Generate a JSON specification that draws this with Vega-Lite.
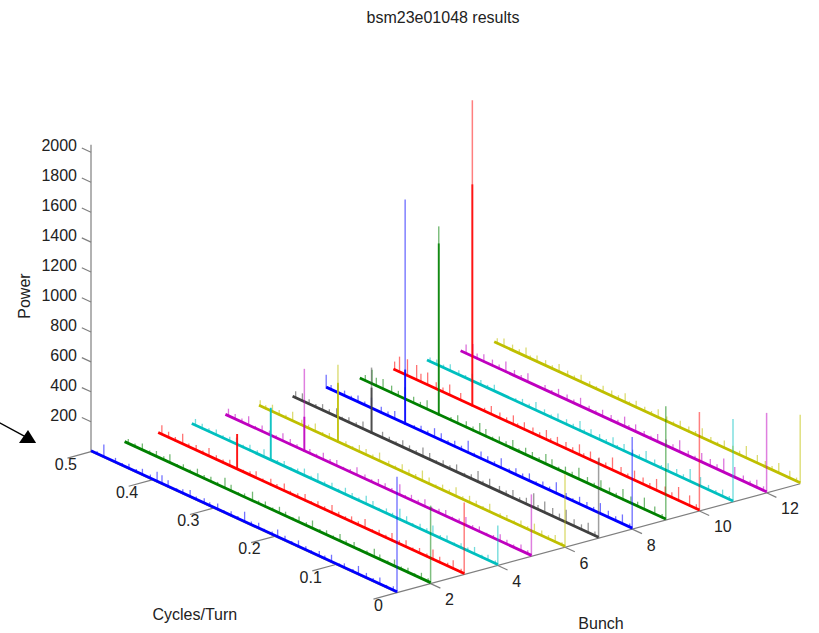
{"$schema":"https://vega.github.io/schema/vega-lite/v6.json","width":819,"height":633,"padding":0,"autosize":{"type":"fit","contains":"padding"},"background":"white","config":{"view":{"stroke":null}},
"datasets":{
"axes":[{"b":1,"f":0.5,"p":0,"b2":1,"f2":0.5,"p2":2050},{"b":1,"f":0,"p":0,"b2":1,"f2":0.5,"p2":0},{"b":1,"f":0,"p":0,"b2":13,"f2":0,"p2":0},
{"b":1,"f":0.5,"p":200,"b2":1,"f2":0.515,"p2":200},{"b":1,"f":0.5,"p":400,"b2":1,"f2":0.515,"p2":400},{"b":1,"f":0.5,"p":600,"b2":1,"f2":0.515,"p2":600},{"b":1,"f":0.5,"p":800,"b2":1,"f2":0.515,"p2":800},{"b":1,"f":0.5,"p":1000,"b2":1,"f2":0.515,"p2":1000},{"b":1,"f":0.5,"p":1200,"b2":1,"f2":0.515,"p2":1200},{"b":1,"f":0.5,"p":1400,"b2":1,"f2":0.515,"p2":1400},{"b":1,"f":0.5,"p":1600,"b2":1,"f2":0.515,"p2":1600},{"b":1,"f":0.5,"p":1800,"b2":1,"f2":0.515,"p2":1800},{"b":1,"f":0.5,"p":2000,"b2":1,"f2":0.515,"p2":2000},
{"b":1,"f":0,"p":0,"b2":0.3,"f2":0,"p2":0},{"b":1,"f":0.1,"p":0,"b2":0.3,"f2":0.1,"p2":0},{"b":1,"f":0.2,"p":0,"b2":0.3,"f2":0.2,"p2":0},{"b":1,"f":0.3,"p":0,"b2":0.3,"f2":0.3,"p2":0},{"b":1,"f":0.4,"p":0,"b2":0.3,"f2":0.4,"p2":0},{"b":1,"f":0.5,"p":0,"b2":0.3,"f2":0.5,"p2":0},
{"b":2,"f":0,"p":0,"b2":2,"f2":-0.016,"p2":0},{"b":4,"f":0,"p":0,"b2":4,"f2":-0.016,"p2":0},{"b":6,"f":0,"p":0,"b2":6,"f2":-0.016,"p2":0},{"b":8,"f":0,"p":0,"b2":8,"f2":-0.016,"p2":0},{"b":10,"f":0,"p":0,"b2":10,"f2":-0.016,"p2":0},{"b":12,"f":0,"p":0,"b2":12,"f2":-0.016,"p2":0}],
"peaks":[{"b":1,"f":0,"p":775,"core":0},{"b":2,"f":0,"p":521,"core":0},{"b":3,"f":0,"p":481,"core":0},{"b":4,"f":0,"p":267,"core":0},{"b":5,"f":0,"p":414,"core":0},{"b":6,"f":0,"p":488,"core":0},{"b":7,"f":0,"p":534,"core":0},{"b":8,"f":0,"p":615,"core":0},{"b":9,"f":0,"p":761,"core":0},{"b":10,"f":0,"p":661,"core":0},{"b":11,"f":0,"p":554,"core":0},{"b":12,"f":0,"p":534,"core":0},{"b":13,"f":0,"p":461,"core":0},
{"b":3,"f":0.371,"p":240,"core":240},{"b":4,"f":0.371,"p":354,"core":354},{"b":5,"f":0.371,"p":554,"core":234},{"b":6,"f":0.371,"p":521,"core":400},{"b":7,"f":0.371,"p":441,"core":307},{"b":8,"f":0.371,"p":1503,"core":367},{"b":9,"f":0.371,"p":1263,"core":1149},{"b":10,"f":0.371,"p":2044,"core":1483}],
"spectra":[
{"b":1,"f":0.006,"p":32},{"b":1,"f":0.017,"p":20},{"b":1,"f":0.028,"p":48},{"b":1,"f":0.039,"p":24},{"b":1,"f":0.05,"p":38},{"b":1,"f":0.063,"p":60},{"b":1,"f":0.072,"p":22},{"b":1,"f":0.086,"p":34},{"b":1,"f":0.094,"p":18},{"b":1,"f":0.107,"p":52},{"b":1,"f":0.118,"p":26},{"b":1,"f":0.127,"p":40},{"b":1,"f":0.14,"p":20},{"b":1,"f":0.149,"p":30},{"b":1,"f":0.161,"p":46},{"b":1,"f":0.172,"p":22},{"b":1,"f":0.183,"p":36},{"b":1,"f":0.195,"p":55},{"b":1,"f":0.204,"p":24},{"b":1,"f":0.217,"p":18},{"b":1,"f":0.226,"p":42},{"b":1,"f":0.238,"p":28},{"b":1,"f":0.249,"p":72},{"b":1,"f":0.26,"p":22},{"b":1,"f":0.271,"p":34},{"b":1,"f":0.283,"p":20},{"b":1,"f":0.293,"p":44},{"b":1,"f":0.306,"p":28},{"b":1,"f":0.315,"p":38},{"b":1,"f":0.328,"p":24},{"b":1,"f":0.338,"p":50},{"b":1,"f":0.35,"p":32},{"b":1,"f":0.36,"p":20},{"b":1,"f":0.374,"p":46},{"b":1,"f":0.384,"p":62},{"b":1,"f":0.392,"p":70},{"b":1,"f":0.403,"p":30},{"b":1,"f":0.416,"p":44},{"b":1,"f":0.426,"p":24},{"b":1,"f":0.438,"p":36},{"b":1,"f":0.449,"p":20},{"b":1,"f":0.46,"p":34},{"b":1,"f":0.479,"p":88},{"b":1,"f":0.49,"p":22},
{"b":2,"f":0.004,"p":28},{"b":2,"f":0.015,"p":44},{"b":2,"f":0.026,"p":20},{"b":2,"f":0.037,"p":36},{"b":2,"f":0.048,"p":24},{"b":2,"f":0.059,"p":50},{"b":2,"f":0.07,"p":22},{"b":2,"f":0.083,"p":38},{"b":2,"f":0.092,"p":60},{"b":2,"f":0.104,"p":26},{"b":2,"f":0.116,"p":18},{"b":2,"f":0.125,"p":42},{"b":2,"f":0.138,"p":30},{"b":2,"f":0.148,"p":52},{"b":2,"f":0.159,"p":22},{"b":2,"f":0.17,"p":36},{"b":2,"f":0.181,"p":24},{"b":2,"f":0.193,"p":58},{"b":2,"f":0.203,"p":28},{"b":2,"f":0.215,"p":44},{"b":2,"f":0.225,"p":20},{"b":2,"f":0.237,"p":34},{"b":2,"f":0.247,"p":48},{"b":2,"f":0.258,"p":22},{"b":2,"f":0.27,"p":40},{"b":2,"f":0.281,"p":26},{"b":2,"f":0.291,"p":66},{"b":2,"f":0.304,"p":30},{"b":2,"f":0.314,"p":20},{"b":2,"f":0.326,"p":46},{"b":2,"f":0.336,"p":74},{"b":2,"f":0.348,"p":24},{"b":2,"f":0.359,"p":38},{"b":2,"f":0.37,"p":28},{"b":2,"f":0.381,"p":50},{"b":2,"f":0.393,"p":22},{"b":2,"f":0.404,"p":36},{"b":2,"f":0.414,"p":20},{"b":2,"f":0.426,"p":62},{"b":2,"f":0.436,"p":30},{"b":2,"f":0.448,"p":42},{"b":2,"f":0.459,"p":24},{"b":2,"f":0.471,"p":48},{"b":2,"f":0.483,"p":26},{"b":2,"f":0.494,"p":36},
{"b":3,"f":0.005,"p":30},{"b":3,"f":0.018,"p":62},{"b":3,"f":0.027,"p":28},{"b":3,"f":0.04,"p":44},{"b":3,"f":0.051,"p":72},{"b":3,"f":0.061,"p":26},{"b":3,"f":0.073,"p":40},{"b":3,"f":0.084,"p":22},{"b":3,"f":0.095,"p":50},{"b":3,"f":0.106,"p":30},{"b":3,"f":0.118,"p":56},{"b":3,"f":0.128,"p":24},{"b":3,"f":0.139,"p":38},{"b":3,"f":0.15,"p":20},{"b":3,"f":0.162,"p":66},{"b":3,"f":0.173,"p":30},{"b":3,"f":0.184,"p":42},{"b":3,"f":0.194,"p":24},{"b":3,"f":0.205,"p":34},{"b":3,"f":0.216,"p":58},{"b":3,"f":0.228,"p":26},{"b":3,"f":0.239,"p":40},{"b":3,"f":0.25,"p":20},{"b":3,"f":0.26,"p":48},{"b":3,"f":0.272,"p":30},{"b":3,"f":0.284,"p":24},{"b":3,"f":0.294,"p":54},{"b":3,"f":0.306,"p":28},{"b":3,"f":0.316,"p":44},{"b":3,"f":0.329,"p":22},{"b":3,"f":0.34,"p":50},{"b":3,"f":0.35,"p":30},{"b":3,"f":0.361,"p":20},{"b":3,"f":0.383,"p":46},{"b":3,"f":0.394,"p":26},{"b":3,"f":0.405,"p":34},{"b":3,"f":0.417,"p":60},{"b":3,"f":0.427,"p":24},{"b":3,"f":0.438,"p":40},{"b":3,"f":0.45,"p":28},{"b":3,"f":0.46,"p":74},{"b":3,"f":0.472,"p":30},{"b":3,"f":0.483,"p":44},{"b":3,"f":0.494,"p":66},
{"b":4,"f":0.004,"p":26},{"b":4,"f":0.016,"p":42},{"b":4,"f":0.026,"p":22},{"b":4,"f":0.038,"p":52},{"b":4,"f":0.049,"p":28},{"b":4,"f":0.06,"p":36},{"b":4,"f":0.071,"p":20},{"b":4,"f":0.083,"p":44},{"b":4,"f":0.094,"p":26},{"b":4,"f":0.106,"p":68},{"b":4,"f":0.116,"p":30},{"b":4,"f":0.127,"p":40},{"b":4,"f":0.139,"p":22},{"b":4,"f":0.149,"p":48},{"b":4,"f":0.16,"p":78},{"b":4,"f":0.172,"p":28},{"b":4,"f":0.182,"p":38},{"b":4,"f":0.194,"p":20},{"b":4,"f":0.204,"p":46},{"b":4,"f":0.215,"p":60},{"b":4,"f":0.227,"p":26},{"b":4,"f":0.238,"p":36},{"b":4,"f":0.249,"p":50},{"b":4,"f":0.26,"p":22},{"b":4,"f":0.271,"p":42},{"b":4,"f":0.283,"p":28},{"b":4,"f":0.294,"p":62},{"b":4,"f":0.305,"p":24},{"b":4,"f":0.316,"p":52},{"b":4,"f":0.327,"p":32},{"b":4,"f":0.338,"p":20},{"b":4,"f":0.349,"p":40},{"b":4,"f":0.36,"p":26},{"b":4,"f":0.382,"p":56},{"b":4,"f":0.393,"p":30},{"b":4,"f":0.405,"p":44},{"b":4,"f":0.416,"p":22},{"b":4,"f":0.427,"p":50},{"b":4,"f":0.438,"p":34},{"b":4,"f":0.449,"p":24},{"b":4,"f":0.46,"p":42},{"b":4,"f":0.472,"p":28},{"b":4,"f":0.483,"p":36},{"b":4,"f":0.494,"p":48},
{"b":5,"f":0.006,"p":30},{"b":5,"f":0.017,"p":48},{"b":5,"f":0.029,"p":24},{"b":5,"f":0.04,"p":36},{"b":5,"f":0.051,"p":52},{"b":5,"f":0.062,"p":26},{"b":5,"f":0.073,"p":20},{"b":5,"f":0.085,"p":40},{"b":5,"f":0.096,"p":28},{"b":5,"f":0.107,"p":62},{"b":5,"f":0.118,"p":30},{"b":5,"f":0.129,"p":22},{"b":5,"f":0.14,"p":46},{"b":5,"f":0.151,"p":34},{"b":5,"f":0.163,"p":24},{"b":5,"f":0.174,"p":54},{"b":5,"f":0.185,"p":30},{"b":5,"f":0.196,"p":42},{"b":5,"f":0.206,"p":22},{"b":5,"f":0.215,"p":76},{"b":5,"f":0.228,"p":28},{"b":5,"f":0.239,"p":38},{"b":5,"f":0.25,"p":46},{"b":5,"f":0.261,"p":24},{"b":5,"f":0.272,"p":34},{"b":5,"f":0.285,"p":58},{"b":5,"f":0.296,"p":26},{"b":5,"f":0.307,"p":20},{"b":5,"f":0.318,"p":44},{"b":5,"f":0.329,"p":30},{"b":5,"f":0.34,"p":52},{"b":5,"f":0.351,"p":24},{"b":5,"f":0.362,"p":36},{"b":5,"f":0.383,"p":28},{"b":5,"f":0.394,"p":42},{"b":5,"f":0.406,"p":58},{"b":5,"f":0.417,"p":24},{"b":5,"f":0.428,"p":34},{"b":5,"f":0.44,"p":46},{"b":5,"f":0.451,"p":22},{"b":5,"f":0.462,"p":66},{"b":5,"f":0.473,"p":30},{"b":5,"f":0.484,"p":40},{"b":5,"f":0.495,"p":54},
{"b":6,"f":0.005,"p":24},{"b":6,"f":0.016,"p":52},{"b":6,"f":0.027,"p":30},{"b":6,"f":0.038,"p":40},{"b":6,"f":0.05,"p":64},{"b":6,"f":0.061,"p":26},{"b":6,"f":0.072,"p":44},{"b":6,"f":0.083,"p":22},{"b":6,"f":0.095,"p":36},{"b":6,"f":0.106,"p":28},{"b":6,"f":0.123,"p":60},{"b":6,"f":0.134,"p":24},{"b":6,"f":0.145,"p":38},{"b":6,"f":0.156,"p":50},{"b":6,"f":0.167,"p":26},{"b":6,"f":0.178,"p":66},{"b":6,"f":0.189,"p":30},{"b":6,"f":0.2,"p":42},{"b":6,"f":0.211,"p":22},{"b":6,"f":0.222,"p":48},{"b":6,"f":0.233,"p":74},{"b":6,"f":0.244,"p":30},{"b":6,"f":0.255,"p":40},{"b":6,"f":0.266,"p":54},{"b":6,"f":0.277,"p":24},{"b":6,"f":0.288,"p":36},{"b":6,"f":0.303,"p":62},{"b":6,"f":0.314,"p":28},{"b":6,"f":0.325,"p":44},{"b":6,"f":0.336,"p":50},{"b":6,"f":0.347,"p":22},{"b":6,"f":0.358,"p":34},{"b":6,"f":0.385,"p":38},{"b":6,"f":0.396,"p":24},{"b":6,"f":0.408,"p":58},{"b":6,"f":0.419,"p":30},{"b":6,"f":0.43,"p":42},{"b":6,"f":0.445,"p":68},{"b":6,"f":0.456,"p":26},{"b":6,"f":0.467,"p":38},{"b":6,"f":0.478,"p":52},{"b":6,"f":0.489,"p":28},{"b":6,"f":0.498,"p":44},
{"b":7,"f":0.006,"p":34},{"b":7,"f":0.017,"p":72},{"b":7,"f":0.028,"p":40},{"b":7,"f":0.04,"p":52},{"b":7,"f":0.053,"p":90},{"b":7,"f":0.064,"p":44},{"b":7,"f":0.075,"p":60},{"b":7,"f":0.088,"p":80},{"b":7,"f":0.099,"p":36},{"b":7,"f":0.106,"p":100},{"b":7,"f":0.118,"p":48},{"b":7,"f":0.129,"p":30},{"b":7,"f":0.14,"p":58},{"b":7,"f":0.151,"p":34},{"b":7,"f":0.162,"p":44},{"b":7,"f":0.178,"p":62},{"b":7,"f":0.189,"p":28},{"b":7,"f":0.197,"p":78},{"b":7,"f":0.208,"p":36},{"b":7,"f":0.219,"p":24},{"b":7,"f":0.232,"p":56},{"b":7,"f":0.243,"p":30},{"b":7,"f":0.254,"p":42},{"b":7,"f":0.265,"p":22},{"b":7,"f":0.276,"p":50},{"b":7,"f":0.287,"p":66},{"b":7,"f":0.298,"p":28},{"b":7,"f":0.309,"p":38},{"b":7,"f":0.32,"p":52},{"b":7,"f":0.331,"p":24},{"b":7,"f":0.342,"p":34},{"b":7,"f":0.353,"p":46},{"b":7,"f":0.385,"p":54},{"b":7,"f":0.396,"p":28},{"b":7,"f":0.408,"p":40},{"b":7,"f":0.419,"p":22},{"b":7,"f":0.428,"p":62},{"b":7,"f":0.44,"p":32},{"b":7,"f":0.451,"p":46},{"b":7,"f":0.462,"p":26},{"b":7,"f":0.473,"p":38},{"b":7,"f":0.484,"p":56},{"b":7,"f":0.495,"p":50},
{"b":8,"f":0.004,"p":30},{"b":8,"f":0.016,"p":68},{"b":8,"f":0.027,"p":36},{"b":8,"f":0.039,"p":50},{"b":8,"f":0.052,"p":76},{"b":8,"f":0.063,"p":30},{"b":8,"f":0.074,"p":42},{"b":8,"f":0.086,"p":54},{"b":8,"f":0.097,"p":24},{"b":8,"f":0.108,"p":38},{"b":8,"f":0.124,"p":80},{"b":8,"f":0.135,"p":30},{"b":8,"f":0.146,"p":44},{"b":8,"f":0.157,"p":24},{"b":8,"f":0.168,"p":56},{"b":8,"f":0.179,"p":34},{"b":8,"f":0.19,"p":48},{"b":8,"f":0.201,"p":26},{"b":8,"f":0.214,"p":70},{"b":8,"f":0.225,"p":30},{"b":8,"f":0.236,"p":42},{"b":8,"f":0.247,"p":54},{"b":8,"f":0.258,"p":24},{"b":8,"f":0.268,"p":86},{"b":8,"f":0.279,"p":32},{"b":8,"f":0.29,"p":44},{"b":8,"f":0.301,"p":26},{"b":8,"f":0.312,"p":52},{"b":8,"f":0.323,"p":66},{"b":8,"f":0.334,"p":30},{"b":8,"f":0.345,"p":40},{"b":8,"f":0.356,"p":24},{"b":8,"f":0.388,"p":58},{"b":8,"f":0.399,"p":34},{"b":8,"f":0.41,"p":46},{"b":8,"f":0.426,"p":76},{"b":8,"f":0.437,"p":30},{"b":8,"f":0.448,"p":48},{"b":8,"f":0.459,"p":26},{"b":8,"f":0.47,"p":40},{"b":8,"f":0.481,"p":60},{"b":8,"f":0.492,"p":36},{"b":8,"f":0.5,"p":90},
{"b":9,"f":0.006,"p":30},{"b":9,"f":0.018,"p":56},{"b":9,"f":0.035,"p":84},{"b":9,"f":0.046,"p":36},{"b":9,"f":0.057,"p":50},{"b":9,"f":0.07,"p":76},{"b":9,"f":0.081,"p":30},{"b":9,"f":0.092,"p":44},{"b":9,"f":0.106,"p":66},{"b":9,"f":0.117,"p":28},{"b":9,"f":0.128,"p":46},{"b":9,"f":0.142,"p":82},{"b":9,"f":0.153,"p":34},{"b":9,"f":0.164,"p":48},{"b":9,"f":0.175,"p":26},{"b":9,"f":0.186,"p":56},{"b":9,"f":0.196,"p":72},{"b":9,"f":0.207,"p":30},{"b":9,"f":0.218,"p":44},{"b":9,"f":0.229,"p":52},{"b":9,"f":0.24,"p":26},{"b":9,"f":0.25,"p":64},{"b":9,"f":0.261,"p":34},{"b":9,"f":0.272,"p":46},{"b":9,"f":0.283,"p":24},{"b":9,"f":0.294,"p":54},{"b":9,"f":0.304,"p":76},{"b":9,"f":0.315,"p":32},{"b":9,"f":0.326,"p":46},{"b":9,"f":0.34,"p":60},{"b":9,"f":0.351,"p":28},{"b":9,"f":0.39,"p":66},{"b":9,"f":0.401,"p":34},{"b":9,"f":0.412,"p":48},{"b":9,"f":0.426,"p":84},{"b":9,"f":0.437,"p":40},{"b":9,"f":0.448,"p":54},{"b":9,"f":0.462,"p":72},{"b":9,"f":0.473,"p":60},{"b":9,"f":0.48,"p":100},{"b":9,"f":0.491,"p":44},
{"b":10,"f":0.005,"p":36},{"b":10,"f":0.016,"p":74},{"b":10,"f":0.034,"p":96},{"b":10,"f":0.045,"p":40},{"b":10,"f":0.056,"p":58},{"b":10,"f":0.07,"p":82},{"b":10,"f":0.081,"p":34},{"b":10,"f":0.092,"p":50},{"b":10,"f":0.106,"p":70},{"b":10,"f":0.117,"p":30},{"b":10,"f":0.128,"p":52},{"b":10,"f":0.142,"p":90},{"b":10,"f":0.153,"p":36},{"b":10,"f":0.164,"p":48},{"b":10,"f":0.178,"p":62},{"b":10,"f":0.189,"p":30},{"b":10,"f":0.196,"p":76},{"b":10,"f":0.207,"p":36},{"b":10,"f":0.218,"p":50},{"b":10,"f":0.232,"p":58},{"b":10,"f":0.243,"p":28},{"b":10,"f":0.25,"p":70},{"b":10,"f":0.261,"p":34},{"b":10,"f":0.272,"p":46},{"b":10,"f":0.286,"p":54},{"b":10,"f":0.297,"p":26},{"b":10,"f":0.304,"p":66},{"b":10,"f":0.315,"p":32},{"b":10,"f":0.326,"p":44},{"b":10,"f":0.34,"p":60},{"b":10,"f":0.351,"p":28},{"b":10,"f":0.39,"p":54},{"b":10,"f":0.408,"p":76},{"b":10,"f":0.419,"p":36},{"b":10,"f":0.43,"p":50},{"b":10,"f":0.444,"p":88},{"b":10,"f":0.455,"p":60},{"b":10,"f":0.462,"p":105},{"b":10,"f":0.477,"p":115},{"b":10,"f":0.49,"p":108},{"b":10,"f":0.498,"p":60},
{"b":11,"f":0.006,"p":28},{"b":11,"f":0.017,"p":50},{"b":11,"f":0.028,"p":26},{"b":11,"f":0.04,"p":38},{"b":11,"f":0.053,"p":66},{"b":11,"f":0.07,"p":88},{"b":11,"f":0.081,"p":32},{"b":11,"f":0.092,"p":46},{"b":11,"f":0.106,"p":58},{"b":11,"f":0.117,"p":26},{"b":11,"f":0.128,"p":42},{"b":11,"f":0.142,"p":72},{"b":11,"f":0.153,"p":30},{"b":11,"f":0.164,"p":40},{"b":11,"f":0.178,"p":52},{"b":11,"f":0.189,"p":24},{"b":11,"f":0.196,"p":62},{"b":11,"f":0.207,"p":30},{"b":11,"f":0.218,"p":42},{"b":11,"f":0.232,"p":48},{"b":11,"f":0.243,"p":26},{"b":11,"f":0.25,"p":70},{"b":11,"f":0.261,"p":30},{"b":11,"f":0.272,"p":40},{"b":11,"f":0.286,"p":52},{"b":11,"f":0.297,"p":24},{"b":11,"f":0.308,"p":38},{"b":11,"f":0.322,"p":60},{"b":11,"f":0.333,"p":28},{"b":11,"f":0.344,"p":40},{"b":11,"f":0.355,"p":24},{"b":11,"f":0.39,"p":48},{"b":11,"f":0.401,"p":26},{"b":11,"f":0.412,"p":38},{"b":11,"f":0.426,"p":54},{"b":11,"f":0.437,"p":24},{"b":11,"f":0.448,"p":36},{"b":11,"f":0.462,"p":50},{"b":11,"f":0.473,"p":26},{"b":11,"f":0.484,"p":40},{"b":11,"f":0.495,"p":32},
{"b":12,"f":0.005,"p":34},{"b":12,"f":0.016,"p":58},{"b":12,"f":0.027,"p":30},{"b":12,"f":0.038,"p":44},{"b":12,"f":0.052,"p":74},{"b":12,"f":0.07,"p":98},{"b":12,"f":0.081,"p":38},{"b":12,"f":0.092,"p":52},{"b":12,"f":0.106,"p":66},{"b":12,"f":0.117,"p":28},{"b":12,"f":0.128,"p":40},{"b":12,"f":0.142,"p":84},{"b":12,"f":0.153,"p":36},{"b":12,"f":0.164,"p":48},{"b":12,"f":0.178,"p":58},{"b":12,"f":0.189,"p":26},{"b":12,"f":0.2,"p":36},{"b":12,"f":0.214,"p":54},{"b":12,"f":0.225,"p":30},{"b":12,"f":0.232,"p":72},{"b":12,"f":0.243,"p":30},{"b":12,"f":0.254,"p":42},{"b":12,"f":0.268,"p":50},{"b":12,"f":0.279,"p":26},{"b":12,"f":0.29,"p":36},{"b":12,"f":0.304,"p":62},{"b":12,"f":0.315,"p":30},{"b":12,"f":0.326,"p":42},{"b":12,"f":0.34,"p":54},{"b":12,"f":0.351,"p":26},{"b":12,"f":0.362,"p":38},{"b":12,"f":0.39,"p":64},{"b":12,"f":0.401,"p":32},{"b":12,"f":0.412,"p":44},{"b":12,"f":0.426,"p":74},{"b":12,"f":0.437,"p":34},{"b":12,"f":0.448,"p":46},{"b":12,"f":0.462,"p":56},{"b":12,"f":0.473,"p":40},{"b":12,"f":0.48,"p":90},{"b":12,"f":0.491,"p":66},
{"b":13,"f":0.006,"p":30},{"b":13,"f":0.017,"p":54},{"b":13,"f":0.035,"p":72},{"b":13,"f":0.046,"p":32},{"b":13,"f":0.057,"p":44},{"b":13,"f":0.07,"p":60},{"b":13,"f":0.088,"p":86},{"b":13,"f":0.099,"p":34},{"b":13,"f":0.11,"p":46},{"b":13,"f":0.124,"p":56},{"b":13,"f":0.135,"p":26},{"b":13,"f":0.146,"p":38},{"b":13,"f":0.16,"p":70},{"b":13,"f":0.171,"p":30},{"b":13,"f":0.182,"p":40},{"b":13,"f":0.196,"p":52},{"b":13,"f":0.207,"p":26},{"b":13,"f":0.218,"p":38},{"b":13,"f":0.232,"p":60},{"b":13,"f":0.243,"p":28},{"b":13,"f":0.254,"p":36},{"b":13,"f":0.268,"p":50},{"b":13,"f":0.279,"p":24},{"b":13,"f":0.286,"p":66},{"b":13,"f":0.297,"p":32},{"b":13,"f":0.308,"p":42},{"b":13,"f":0.322,"p":48},{"b":13,"f":0.333,"p":24},{"b":13,"f":0.344,"p":36},{"b":13,"f":0.358,"p":54},{"b":13,"f":0.369,"p":28},{"b":13,"f":0.38,"p":40},{"b":13,"f":0.394,"p":58},{"b":13,"f":0.405,"p":28},{"b":13,"f":0.416,"p":42},{"b":13,"f":0.43,"p":46},{"b":13,"f":0.441,"p":26},{"b":13,"f":0.448,"p":66},{"b":13,"f":0.459,"p":34},{"b":13,"f":0.47,"p":44},{"b":13,"f":0.484,"p":58},{"b":13,"f":0.495,"p":40}],
"ends":[{"b":1,"f":0},{"b":1,"f":0.5},{"b":2,"f":0},{"b":2,"f":0.5},{"b":3,"f":0},{"b":3,"f":0.5},{"b":4,"f":0},{"b":4,"f":0.5},{"b":5,"f":0},{"b":5,"f":0.5},{"b":6,"f":0},{"b":6,"f":0.5},{"b":7,"f":0},{"b":7,"f":0.5},{"b":8,"f":0},{"b":8,"f":0.5},{"b":9,"f":0},{"b":9,"f":0.5},{"b":10,"f":0},{"b":10,"f":0.5},{"b":11,"f":0},{"b":11,"f":0.5},{"b":12,"f":0},{"b":12,"f":0.5},{"b":13,"f":0},{"b":13,"f":0.5}]
},
"encoding":{"x":{"field":"x","type":"quantitative","scale":{"domain":[0,819],"nice":false,"zero":false},"axis":null},"y":{"field":"y","type":"quantitative","scale":{"domain":[633,0],"nice":false,"zero":false},"axis":null}},
"layer":[
{"data":{"name":"axes"},"transform":[{"calculate":"397+33.6*(datum.b-1)-612*datum.f","as":"x"},{"calculate":"592.7-9.08*(datum.b-1)-282*datum.f-0.1497*datum.p","as":"y"},{"calculate":"397+33.6*(datum.b2-1)-612*datum.f2","as":"xe"},{"calculate":"592.7-9.08*(datum.b2-1)-282*datum.f2-0.1497*datum.p2","as":"ye"}],"mark":{"type":"rule","color":"#7f7f7f","strokeWidth":1.2},"encoding":{"x2":{"field":"xe"},"y2":{"field":"ye"}}},
{"data":{"name":"spectra"},"transform":[{"calculate":"397+33.6*(datum.b-1)-612*datum.f","as":"x"},{"calculate":"592.7-9.08*(datum.b-1)-282*datum.f-0.1497*datum.p","as":"y"},{"calculate":"592.7-9.08*(datum.b-1)-282*datum.f","as":"y0"}],"mark":{"type":"rule","strokeWidth":1.3,"opacity":0.55},"encoding":{"y2":{"field":"y0"},"color":{"field":"b","type":"nominal","legend":null,"scale":{"domain":[1,2,3,4,5,6,7,8,9,10,11,12,13],"range":["#0000ff","#008000","#ff0000","#00bfbf","#bf00bf","#bfbf00","#404040","#0000ff","#008000","#ff0000","#00bfbf","#bf00bf","#bfbf00"]}}}},
{"data":{"name":"ends"},"transform":[{"calculate":"397+33.6*(datum.b-1)-612*datum.f","as":"x"},{"calculate":"592.7-9.08*(datum.b-1)-282*datum.f-1","as":"y"}],"mark":{"type":"line","strokeWidth":2.8},"encoding":{"order":{"field":"f","type":"quantitative"},"color":{"field":"b","type":"nominal","legend":null}}},
{"data":{"name":"peaks"},"transform":[{"calculate":"397+33.6*(datum.b-1)-612*datum.f","as":"x"},{"calculate":"592.7-9.08*(datum.b-1)-282*datum.f-0.1497*datum.p","as":"y"},{"calculate":"592.7-9.08*(datum.b-1)-282*datum.f","as":"y0"}],"mark":{"type":"rule","strokeWidth":1.5,"opacity":0.5},"encoding":{"y2":{"field":"y0"},"color":{"field":"b","type":"nominal","legend":null}}},
{"data":{"name":"peaks"},"transform":[{"filter":"datum.core>0"},{"calculate":"397+33.6*(datum.b-1)-612*datum.f","as":"x"},{"calculate":"592.7-9.08*(datum.b-1)-282*datum.f-0.1497*datum.core","as":"y"},{"calculate":"592.7-9.08*(datum.b-1)-282*datum.f","as":"y0"}],"mark":{"type":"rule","strokeWidth":1.9,"opacity":0.85},"encoding":{"y2":{"field":"y0"},"color":{"field":"b","type":"nominal","legend":null}}},
{"data":{"values":[{"b":1,"f":0.5,"p":200,"label":"200"},{"b":1,"f":0.5,"p":400,"label":"400"},{"b":1,"f":0.5,"p":600,"label":"600"},{"b":1,"f":0.5,"p":800,"label":"800"},{"b":1,"f":0.5,"p":1000,"label":"1000"},{"b":1,"f":0.5,"p":1200,"label":"1200"},{"b":1,"f":0.5,"p":1400,"label":"1400"},{"b":1,"f":0.5,"p":1600,"label":"1600"},{"b":1,"f":0.5,"p":1800,"label":"1800"},{"b":1,"f":0.5,"p":2000,"label":"2000"}]},"transform":[{"calculate":"397+33.6*(datum.b-1)-612*datum.f","as":"x"},{"calculate":"592.7-9.08*(datum.b-1)-282*datum.f-0.1497*datum.p","as":"y"}],"mark":{"type":"text","align":"right","baseline":"middle","dx":-14,"dy":-6,"font":"Liberation Sans","fontSize":16,"color":"#222222"},"encoding":{"text":{"field":"label"}}},
{"data":{"values":[{"b":1,"f":0,"p":0,"label":"0"},{"b":1,"f":0.1,"p":0,"label":"0.1"},{"b":1,"f":0.2,"p":0,"label":"0.2"},{"b":1,"f":0.3,"p":0,"label":"0.3"},{"b":1,"f":0.4,"p":0,"label":"0.4"},{"b":1,"f":0.5,"p":0,"label":"0.5"}]},"transform":[{"calculate":"397+33.6*(datum.b-1)-612*datum.f","as":"x"},{"calculate":"592.7-9.08*(datum.b-1)-282*datum.f-0.1497*datum.p","as":"y"}],"mark":{"type":"text","align":"right","baseline":"middle","dx":-14,"dy":13,"font":"Liberation Sans","fontSize":16,"color":"#222222"},"encoding":{"text":{"field":"label"}}},
{"data":{"values":[{"b":2,"f":0,"p":0,"label":"2"},{"b":4,"f":0,"p":0,"label":"4"},{"b":6,"f":0,"p":0,"label":"6"},{"b":8,"f":0,"p":0,"label":"8"},{"b":10,"f":0,"p":0,"label":"10"},{"b":12,"f":0,"p":0,"label":"12"}]},"transform":[{"calculate":"397+33.6*(datum.b-1)-612*datum.f","as":"x"},{"calculate":"592.7-9.08*(datum.b-1)-282*datum.f-0.1497*datum.p","as":"y"}],"mark":{"type":"text","align":"left","baseline":"middle","dx":14.5,"dy":16.5,"font":"Liberation Sans","fontSize":16,"color":"#222222"},"encoding":{"text":{"field":"label"}}},
{"data":{"values":[{"b":-3.7,"f":0.0723,"p":0,"label":"Cycles/Turn"},{"b":3.553,"f":-0.1932,"p":0,"label":"Bunch"},{"b":11.476,"f":0.5,"p":2262,"label":"bsm23e01048 results"}]},"transform":[{"calculate":"397+33.6*(datum.b-1)-612*datum.f","as":"x"},{"calculate":"592.7-9.08*(datum.b-1)-282*datum.f-0.1497*datum.p","as":"y"}],"mark":{"type":"text","align":"center","baseline":"middle","font":"Liberation Sans","fontSize":16,"color":"#222222"},"encoding":{"text":{"field":"label"}}},
{"data":{"values":[{"b":-0.964,"f":0.5,"p":1159,"label":"Power"}]},"transform":[{"calculate":"397+33.6*(datum.b-1)-612*datum.f","as":"x"},{"calculate":"592.7-9.08*(datum.b-1)-282*datum.f-0.1497*datum.p","as":"y"}],"mark":{"type":"text","align":"center","baseline":"middle","angle":270,"font":"Liberation Sans","fontSize":16,"color":"#222222"},"encoding":{"text":{"field":"label"}}},
{"data":{"values":[{"b":-1.75,"f":0.5,"p":363,"o":1},{"b":-0.875,"f":0.5,"p":205,"o":2}]},"transform":[{"calculate":"397+33.6*(datum.b-1)-612*datum.f","as":"x"},{"calculate":"592.7-9.08*(datum.b-1)-282*datum.f-0.1497*datum.p","as":"y"}],"mark":{"type":"line","color":"black","strokeWidth":1.4,"clip":true},"encoding":{"order":{"field":"o","type":"quantitative"}}},
{"data":{"values":[{"b":-0.875,"f":0.5,"p":205}]},"transform":[{"calculate":"397+33.6*(datum.b-1)-612*datum.f","as":"x"},{"calculate":"592.7-9.08*(datum.b-1)-282*datum.f-0.1497*datum.p","as":"y"}],"mark":{"type":"point","filled":true,"color":"black","opacity":1,"size":324,"shape":"M -1 0.55 L 0 -0.9 L 0.9 0.55 Z"}}
]}
